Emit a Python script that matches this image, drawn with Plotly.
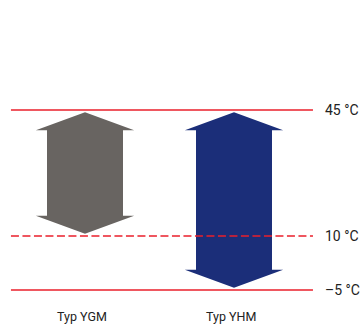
import plotly.graph_objects as go

# ---- data ----
categories = ["Typ YGM", "Typ YHM"]
range_low = [10, -5]      # °C
range_high = [45, 45]     # °C
levels = [45, 10, -5]
level_labels = ["45 °C", "10 °C", "–5 °C"]
level_dash = ["solid", "8px,3.5px", "solid"]
arrow_colors = ["#686461", "#1b2e79"]

# ---- style constants ----
SHAFT_HW = 0.255
HEAD_HW = 0.33
HEAD_H = 5.0
TIP_INSET = 0.6
RED = "#ea1f2b"
FONT = "Roboto, Arial, sans-serif"

fig = go.Figure()

for i, cat in enumerate(categories):
    x0 = i
    top = range_high[i] - TIP_INSET
    bot = range_low[i] + TIP_INSET
    xs = [x0, x0 + HEAD_HW, x0 + SHAFT_HW, x0 + SHAFT_HW, x0 + HEAD_HW, x0,
          x0 - HEAD_HW, x0 - SHAFT_HW, x0 - SHAFT_HW, x0 - HEAD_HW, x0]
    ys = [top, top - HEAD_H, top - HEAD_H, bot + HEAD_H, bot + HEAD_H, bot,
          bot + HEAD_H, bot + HEAD_H, top - HEAD_H, top - HEAD_H, top]
    fig.add_trace(go.Scatter(x=xs, y=ys, mode="lines", fill="toself",
                             fillcolor=arrow_colors[i], line=dict(width=0),
                             hoverinfo="skip", showlegend=False))
    fig.add_annotation(x=x0 - 0.02, y=-12.4, text=cat, showarrow=False,
                       font=dict(family=FONT, size=12.5, color="#222222"),
                       xanchor="center", yanchor="middle")

x_line0, x_line1 = -0.497, 1.53
for lv, lab, dash in zip(levels, level_labels, level_dash):
    fig.add_trace(go.Scatter(x=[x_line0, x_line1], y=[lv, lv], mode="lines",
                             line=dict(color=RED, width=1.3, dash=dash),
                             hoverinfo="skip", showlegend=False))
    fig.add_annotation(x=1.595, y=lv, text=lab, showarrow=False,
                       font=dict(family=FONT, size=14, color="#222222"),
                       xanchor="left", yanchor="middle")

fig.update_layout(
    width=363, height=324,
    margin=dict(l=0, r=0, t=0, b=0),
    paper_bgcolor="white", plot_bgcolor="white",
    xaxis=dict(range=[-0.5705, 1.8658], visible=False, fixedrange=True),
    yaxis=dict(range=[-14.44, 75.56], visible=False, fixedrange=True),
)

fig.write_html(
    "out.html",
    config={"displayModeBar": False, "staticPlot": True},
    post_script="document.body.style.margin='0';document.body.style.overflow='hidden';",
)
